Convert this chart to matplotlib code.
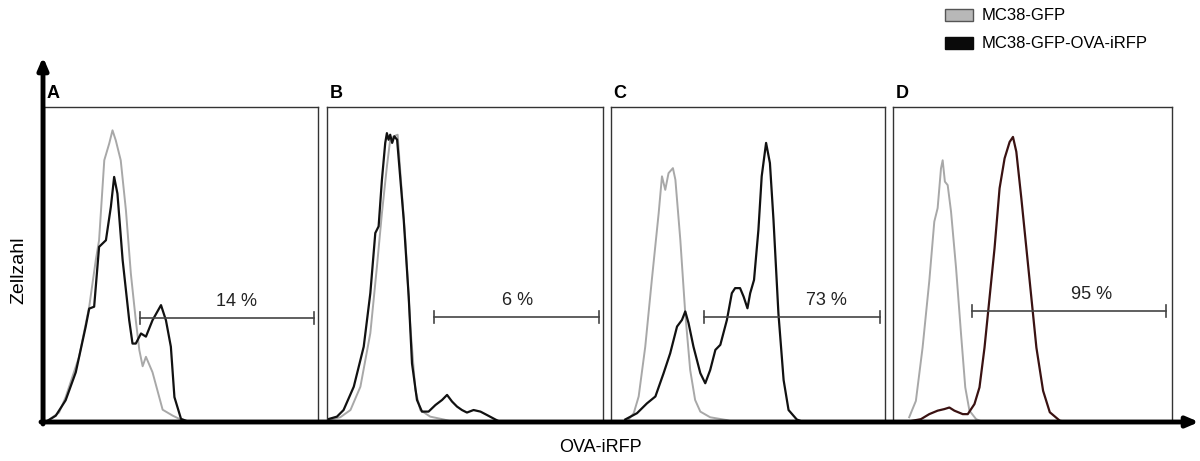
import matplotlib
matplotlib.use('Agg')
import matplotlib.pyplot as plt
from matplotlib.patches import Rectangle

plt.rcParams['font.family'] = ['Liberation Sans', 'DejaVu Sans']

# Histogram outlines, x and y in % of panel width / height
a_gray_x = [0.6, 5.5, 7.9, 12.8, 16.5, 18.9, 20.1, 22.0, 23.8, 25.0, 26.2, 28.0, 29.9, 31.7, 33.5, 34.8, 36.0, 37.2, 39.6, 43.3, 47.0, 51.8]
a_gray_y = [0, 3.0, 7.9, 20.7, 36.6, 51.4, 57.7, 83.1, 88.4, 92.6, 89.4, 83.1, 67.2, 47.1, 32.3, 22.8, 17.7, 20.7, 15.8, 3.9, 2.0, 0]
a_black_x = [0.6, 4.3, 7.9, 11.6, 15.2, 16.5, 18.3, 20.1, 22.6, 24.4, 25.6, 26.8, 28.7, 31.1, 32.3, 33.5, 35.4, 37.2, 39.6, 42.7, 44.5, 46.3, 47.6, 50.0, 53.0]
a_black_y = [0, 2.0, 6.9, 15.8, 30.2, 36.0, 36.6, 55.6, 57.7, 68.3, 77.8, 72.5, 51.4, 32.3, 24.9, 24.9, 28.1, 27.1, 32.3, 37.1, 32.3, 23.9, 7.9, 1.0, 0]

b_gray_x = [0, 4.8, 8.5, 12.1, 15.7, 18.1, 19.9, 21.7, 22.9, 24.2, 25.6, 26.6, 28.4, 30.2, 32.0, 33.8, 37.4, 42.3, 45.9]
b_gray_y = [0.6, 1.5, 3.8, 11.2, 28.2, 49.4, 66.3, 81.1, 89.6, 90.7, 91.2, 79.0, 57.8, 30.3, 10.2, 3.8, 1.7, 0.8, 0]
b_black_x = [0, 3.6, 6.0, 9.7, 13.3, 15.7, 17.5, 18.7, 19.9, 21.1, 21.7, 22.3, 22.9, 23.6, 24.4, 25.4, 26.6, 27.8, 29.6, 30.8, 32.6, 34.4, 36.8, 39.3, 41.7, 43.5, 45.3, 47.1, 48.9, 50.7, 53.1, 55.6, 58.0, 61.0, 62.8]
b_black_y = [0.8, 1.7, 3.8, 11.2, 23.9, 40.9, 60.0, 62.1, 76.9, 88.6, 91.7, 89.6, 91.2, 88.6, 90.7, 89.6, 76.9, 64.2, 39.8, 18.6, 7.0, 3.3, 3.3, 5.4, 7.0, 8.6, 6.5, 4.9, 3.8, 3.0, 3.8, 3.3, 2.2, 0.8, 0]

c_gray_x = [6.4, 8.3, 10.1, 12.5, 14.9, 17.4, 18.6, 19.8, 21.0, 22.6, 23.5, 25.3, 27.1, 28.9, 30.7, 32.6, 36.2, 42.3, 44.7]
c_gray_y = [0.8, 2.8, 8.1, 23.9, 45.1, 66.3, 78.0, 73.7, 79.0, 80.6, 76.9, 57.8, 34.5, 16.5, 7.0, 3.3, 1.5, 0.6, 0]
c_black_x = [5.2, 9.5, 13.1, 16.2, 19.2, 21.6, 24.1, 25.9, 27.1, 28.3, 30.1, 32.6, 34.4, 36.2, 38.1, 39.9, 42.3, 44.1, 45.3, 47.1, 48.4, 49.8, 50.8, 52.2, 53.8, 55.0, 56.6, 58.0, 59.3, 61.1, 63.0, 64.8, 67.8, 70.2]
c_black_y = [0.8, 2.8, 5.9, 8.1, 15.5, 21.8, 30.3, 32.4, 35.1, 31.4, 23.9, 15.5, 12.3, 16.5, 22.9, 24.5, 32.4, 40.9, 42.5, 42.5, 39.8, 36.1, 40.9, 45.1, 61.0, 78.0, 88.6, 82.2, 64.2, 34.5, 13.3, 3.8, 0.8, 0]

d_gray_x = [5.8, 8.2, 10.6, 13.0, 14.8, 16.0, 17.2, 17.8, 18.6, 19.6, 20.8, 22.6, 24.4, 25.9, 27.4, 29.8, 32.2]
d_gray_y = [1.5, 6.7, 23.6, 44.7, 63.6, 67.9, 80.5, 83.1, 76.3, 75.2, 66.8, 48.9, 27.8, 11.0, 3.6, 0.9, 0]
d_black_x = [5.8, 10.0, 13.0, 16.0, 18.4, 20.2, 22.0, 25.0, 26.8, 29.2, 31.0, 32.8, 34.6, 36.4, 38.2, 40.0, 41.8, 43.0, 44.2, 46.0, 47.8, 49.6, 51.4, 53.8, 56.2, 59.8, 62.2]
d_black_y = [0.2, 0.9, 2.5, 3.6, 4.1, 4.6, 3.6, 2.5, 2.5, 5.7, 11.0, 23.6, 39.4, 55.2, 74.2, 83.7, 88.9, 90.5, 85.8, 71.0, 55.2, 39.4, 23.6, 9.9, 3.1, 0.4, 0]

panel_letters = ['A', 'B', 'C', 'D']
gray_x = [a_gray_x, b_gray_x, c_gray_x, d_gray_x]
gray_y = [a_gray_y, b_gray_y, c_gray_y, d_gray_y]
black_x = [a_black_x, b_black_x, c_black_x, d_black_x]
black_y = [a_black_y, b_black_y, c_black_y, d_black_y]
black_colors = ['#111111', '#111111', '#111111', '#3a1212']

# Gates (marker regions) and percentages
gate_start = [35.0, 38.6, 33.8, 28.3]
gate_end = [98.5, 98.4, 98.2, 97.8]
gate_y = [33.0, 33.3, 33.3, 35.2]
gate_labels = ['14 %', '6 %', '73 %', '95 %']
gate_text_x = [70.4, 69.2, 78.8, 71.0]

legend_labels = ['MC38-GFP', 'MC38-GFP-OVA-iRFP']

W, H = 1200, 461
fig = plt.figure(figsize=(W / 100, H / 100), dpi=100)

# panel boxes in pixels (left, right); top/bottom shared
panel_lr = [(44, 318), (327, 603), (611, 885), (893, 1172)]
top, bottom = 107, 422

for i, (l, r) in enumerate(panel_lr):
    ax = fig.add_axes([l / W, (H - bottom) / H, (r - l) / W, (bottom - top) / H])
    ax.set_xlim(0, 100)
    ax.set_ylim(0, 100)
    ax.set_xticks([])
    ax.set_yticks([])
    for s in ax.spines.values():
        s.set_color('#333333')
        s.set_linewidth(1.0)
    ax.plot(gray_x[i], gray_y[i], color='#a8a8a8', lw=1.4)
    ax.plot(black_x[i], black_y[i], color=black_colors[i], lw=1.6)
    # gate
    ax.plot([gate_start[i], gate_end[i]], [gate_y[i], gate_y[i]], color='#444444', lw=1.2)
    for gx in (gate_start[i], gate_end[i]):
        ax.plot([gx, gx], [gate_y[i] - 2, gate_y[i] + 2], color='#444444', lw=1.2)
    ax.text(gate_text_x[i], gate_y[i] + 2.5, gate_labels[i], ha='center', va='bottom',
            fontsize=13, color='#222222')
    ax.text(1, 101.5, panel_letters[i], ha='left', va='bottom',
            fontsize=13, fontweight='bold', color='black', clip_on=False)

# overlay in pixel coordinates for axes arrows, labels, legend
ov = fig.add_axes([0, 0, 1, 1], zorder=10)
ov.set_xlim(0, W)
ov.set_ylim(H, 0)
ov.axis('off')
ov.patch.set_alpha(0)

arrow = dict(arrowstyle='-|>,head_length=0.7,head_width=0.3', color='black', lw=3.5,
             shrinkA=0, shrinkB=0)
ov.annotate('', xy=(43, 57), xytext=(43, 424), arrowprops=arrow)
ov.annotate('', xy=(1199, 422), xytext=(41, 422), arrowprops=arrow)

ov.text(19, 270, 'Zellzahl', rotation=90, ha='center', va='center', fontsize=14)
ov.text(600, 447, 'OVA-iRFP', ha='center', va='center', fontsize=13)

# legend
ov.add_patch(Rectangle((945, 9), 28, 12, facecolor='#b8b8b8', edgecolor='#555555', lw=1))
ov.add_patch(Rectangle((945, 37), 28, 12, facecolor='#0a0a0a', edgecolor='#0a0a0a', lw=1))
ov.text(982, 15, legend_labels[0], ha='left', va='center', fontsize=12)
ov.text(982, 43, legend_labels[1], ha='left', va='center', fontsize=12)

fig.savefig('out.png', dpi=100)
